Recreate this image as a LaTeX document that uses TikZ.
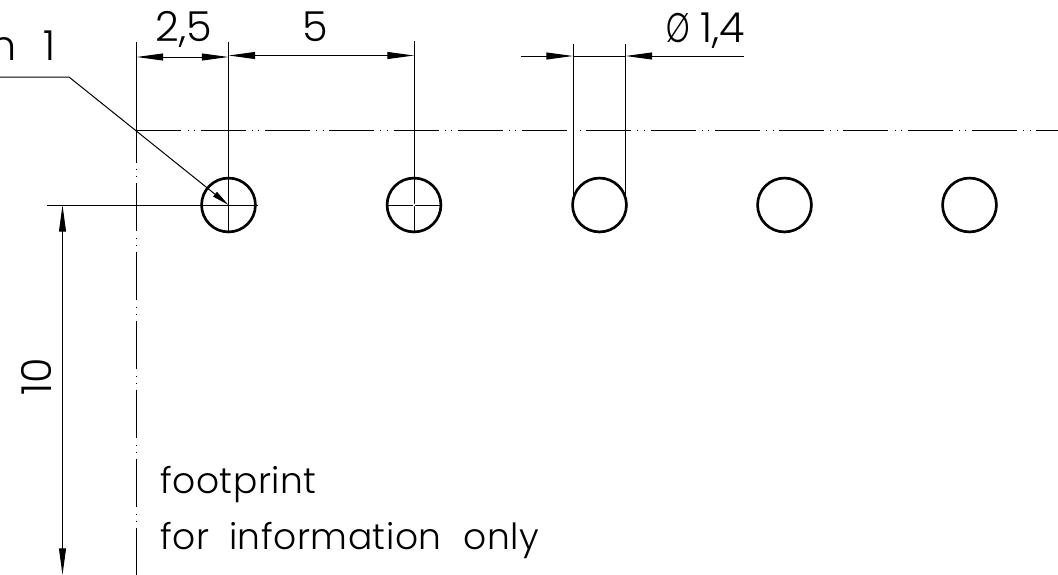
\documentclass[tikz,border=0pt]{standalone}
\usepackage{fontspec}
\setmainfont{Poppins}[UprightFont=* Light]
\usetikzlibrary{arrows.meta}
\newcommand{\bigtxt}{\fontsize{31}{34}\selectfont}
\newcommand{\midtxt}{\fontsize{27}{30}\selectfont\addfontfeatures{LetterSpace=1.5}}
\tikzset{
  x=0.75pt,y=-0.75pt,
  thinline/.style={line width=0.75pt,black},
  dimline/.style={thinline,{Triangle[length=20pt,width=5.2pt]}-{Triangle[length=20pt,width=5.2pt]}},
  hole/.style={circle,draw=black,line width=2pt,minimum size=40.4pt,inner sep=0pt},
  centreh/.style={line width=0.75pt,dash pattern=on 33.7pt off 4.6pt on 0.7pt off 4.2pt on 0.7pt off 4.3pt},
  centrev/.style={line width=0.75pt,dash pattern=on 36.4pt off 4.9pt on 0.7pt off 4.4pt on 0.7pt off 4.6pt,dash phase=12pt},
  label/.style={inner sep=0pt,text=black,anchor=base},
}
\begin{document}
\begin{tikzpicture}
\useasboundingbox (0,0) rectangle (1058,575);
% datum coordinates
\coordinate (ext0t) at (136.5,42);
\coordinate (ext0c) at (136.5,130);
\coordinate (ext0b) at (136.5,575);
\coordinate (ext1t) at (228.5,42);
\coordinate (ext2t) at (414,41);
\coordinate (ext3t) at (573,44);
\coordinate (ext4t) at (625.5,44);
\coordinate (ext3b) at (573,205);
\coordinate (ext4b) at (625.5,205);
\coordinate (cend) at (1058,130);
% centre lines and extension lines
\draw[centreh] (ext0c) -- (cend);
\draw[centrev] (ext0c) -- (ext0b);
\draw[thinline] (ext0t) -- (ext0c);
% holes
\node[hole] (h1) at (228.5,205) {};
\node[hole] (h2) at (414,205) {};
\node[hole] (h3) at (599.5,205) {};
\node[hole] (h4) at (784.5,205) {};
\node[hole] (h5) at (969.5,205) {};
% crosshair and extension lines
\coordinate (h1b) at (228.5,232);
\coordinate (h2b) at (414,232);
\coordinate (h1r) at (258,205);
\coordinate (h2l) at (386,205);
\coordinate (h2r) at (442,205);
\coordinate (d10t) at (47,205);
\draw[thinline] (ext1t) -- (h1b);
\draw[thinline] (ext2t) -- (h2b);
\draw[thinline] (d10t) -- (h1r);
\draw[thinline] (h2l) -- (h2r);
\draw[thinline] (ext3t) -- (ext3b);
\draw[thinline] (ext4t) -- (ext4b);
\fill[white] (h2.center) circle (1.5);
% dimensions
\coordinate (d25a) at (136.5,57);
\coordinate (d25b) at (228.5,57);
\coordinate (d5a) at (228.5,55.5);
\coordinate (d5b) at (414,55.5);
\coordinate (dpa) at (521,56);
\coordinate (dpb) at (573,56);
\coordinate (dpc) at (625.5,56);
\coordinate (dpd) at (744,56);
\coordinate (d10a) at (62.5,205);
\coordinate (d10b) at (62.5,575);
\draw[dimline] (d25a) -- (d25b);
\draw[dimline] (d5a) -- (d5b);
\draw[dimline] (d10a) -- (d10b);
\draw[thinline,-{Triangle[length=20pt,width=5.2pt]}] (dpa) -- (dpb);
\draw[thinline,-{Triangle[length=20pt,width=5.2pt]}] (dpd) -- (dpc);
\draw[thinline] (dpb) -- (dpc);
% leader
\coordinate (la) at (0,77);
\coordinate (lb) at (69,77);
\draw[thinline,-{Triangle[length=13pt,width=4.4pt]}] (la) -- (lb) -- (h1.center);
% labels
\node[label] (t25) at (184,41) {\bigtxt 2,5};
\node[label] (t5) at (315,41) {\bigtxt 5};
\node[label,anchor=base east] (tphi) at (745,42) {\bigtxt \scalebox{0.72}[1]{Ø}\hspace{8pt}1,4};
\node[label,anchor=base east] (tpin) at (56,60) {\bigtxt n\hspace{20pt}1};
\node[label,rotate=90] (t10) at (51,377) {\bigtxt 10};
\node[label,anchor=base west] (tf) at (160,493) {\midtxt footprint};
\node[label,anchor=base west] (ti) at (160,549) {\midtxt for\hspace{15pt}information\hspace{16.5pt}only};
\end{tikzpicture}
\end{document}
